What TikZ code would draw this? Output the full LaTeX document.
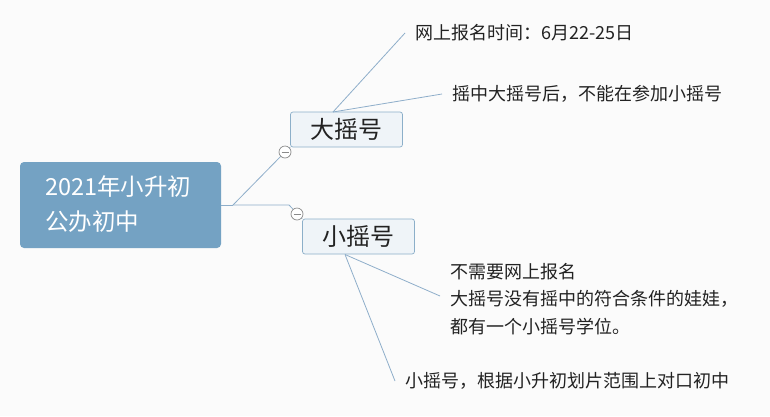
\documentclass[tikz,border=0pt]{standalone}
\usepackage{fontspec}
\setmainfont{Noto Sans CJK SC}
\begin{document}
\begin{tikzpicture}[x=1pt,y=-1pt,
  conn/.style={draw=lineblue,line width=0.8pt},
  topic/.style={draw=boxborder,fill=boxfill,line width=0.7pt,rounded corners=2.5pt,minimum width=112pt,minimum height=35pt,inner sep=0pt,font=\fontsize{24}{26}\selectfont,text=textdark},
  leaf/.style={anchor=west,inner xsep=10pt,inner ysep=0pt,align=left,font=\fontsize{18}{27.5}\selectfont,text=textdark},
  fold/.style={circle,draw=foldgray,fill=white,line width=0.7pt,minimum size=12pt,inner sep=0pt,
    path picture={\draw[foldgray,line width=0.7pt] ([xshift=-3.5pt]path picture bounding box.center) -- ([xshift=3.5pt]path picture bounding box.center);}}]
\definecolor{bg}{HTML}{FBFBFB}
\definecolor{rootfill}{HTML}{74A2C3}
\definecolor{boxfill}{HTML}{EFF4F8}
\definecolor{boxborder}{HTML}{8CAFC9}
\definecolor{lineblue}{HTML}{8EAECA}
\definecolor{foldgray}{HTML}{8A8A8A}
\definecolor{textdark}{HTML}{222222}
\fill[bg] (0,0) rectangle (770,416);
\useasboundingbox (0,0) rectangle (770,416);
% root
\node[fill=rootfill,rounded corners=4pt,minimum width=201pt,minimum height=86pt,inner sep=0pt] (r) at (120.5,205) {};
\node[anchor=west,inner sep=0pt,text=white,align=left,font=\fontsize{23.5}{35}\selectfont] (rt) at (45,204.5) {2021年小升初\\公办初中};
% topic boxes
\node[topic] (b1) at (346.5,129.5) {大摇号};
\node[topic] (b2) at (358.5,236.5) {小摇号};
% fold circles
\coordinate (j) at (233,205);
\coordinate (k) at (289,205);
\draw[conn] (r.east) -- (j);
\draw[conn] (j) -- (285,152) -- (b1.south west);
\draw[conn] (j) -- (k) -- (b2.north west);
\node[fold] (c1) at (285,152) {};
\node[fold] (c2) at (297,214) {};
% leaves
\node[leaf] (t1) at (405,33) {网上报名时间：6月22-25日};
\node[leaf] (t2) at (442,94) {摇中大摇号后，不能在参加小摇号};
\node[leaf] (t3) at (440,299) {不需要网上报名\\大摇号没有摇中的符合条件的娃娃，\\都有一个小摇号学位。};
\node[leaf] (t4) at (395,381) {小摇号，根据小升初划片范围上对口初中};
\coordinate (s1) at (333,112);
\coordinate (s2) at (345,254.5);
\draw[conn] (s1) -- (t1.west);
\draw[conn] (s1) -- (t2.west);
\draw[conn] (s2) -- ([yshift=3pt]t3.west);
\draw[conn] (s2) -- (t4.west);
\end{tikzpicture}
\end{document}
